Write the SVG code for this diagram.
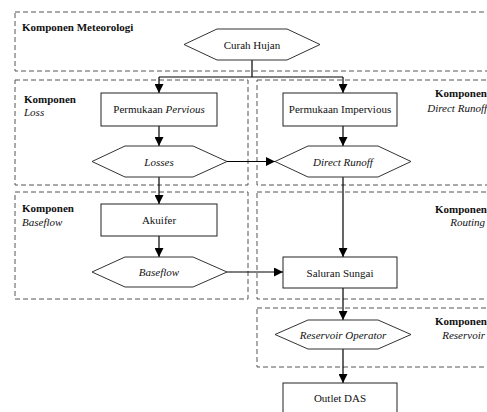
<svg xmlns="http://www.w3.org/2000/svg" width="487" height="412" viewBox="0 0 487 412" font-family="'Liberation Serif', 'DejaVu Serif', serif">
<defs>
<marker id="ah" markerWidth="9" markerHeight="9" refX="9" refY="4.5" orient="auto" markerUnits="userSpaceOnUse">
<path d="M0,0 L9,4.5 L0,9 Z" fill="#000"/>
</marker>
<style>
.grp{fill:none;stroke:#555;stroke-width:1;stroke-dasharray:5,3}
.box{fill:#fff;stroke:#222;stroke-width:1}
.hex{fill:#fff;stroke:#333;stroke-width:1}
text{font-family:'Liberation Serif','DejaVu Serif',serif;font-size:11px;fill:#111}
.b{font-weight:bold}
.i{font-style:italic}
.c{text-anchor:middle}
.r{text-anchor:end}
.ln{fill:none;stroke:#000;stroke-width:1.2}
</style>
</defs>
<rect width="487" height="412" fill="#fff"/>
<g id="groups">
<rect class="grp" x="15" y="12" width="480" height="59"/>
<rect class="grp" x="15" y="80" width="233" height="105"/>
<rect class="grp" x="257" y="80" width="240" height="105"/>
<rect class="grp" x="15" y="192" width="233" height="107"/>
<rect class="grp" x="257" y="192" width="240" height="107"/>
<rect class="grp" x="257" y="308" width="240" height="59"/>
<text class="b" x="22" y="31">Komponen Meteorologi</text>
<text class="b" x="24" y="103">Komponen</text>
<text class="i" x="24" y="116">Loss</text>
<text class="b r" x="487" y="97">Komponen</text>
<text class="i r" x="487" y="112">Direct Runoff</text>
<text class="b" x="22" y="212">Komponen</text>
<text class="i" x="22" y="226">Baseflow</text>
<text class="b r" x="487" y="213">Komponen</text>
<text class="i r" x="485" y="226">Routing</text>
<text class="b r" x="487" y="325">Komponen</text>
<text class="i r" x="485" y="339">Reservoir</text>
</g>
<g id="connectors">
<path class="ln" d="M252,60 V77"/>
<path class="ln" d="M159,77 H343"/>
<path class="ln" d="M159,77 V93" marker-end="url(#ah)"/>
<path class="ln" d="M343,77 V93" marker-end="url(#ah)"/>
<path class="ln" d="M159,126 V146" marker-end="url(#ah)"/>
<path class="ln" d="M343,126 V146" marker-end="url(#ah)"/>
<path class="ln" d="M227,161.5 H275" marker-end="url(#ah)"/>
<path class="ln" d="M159,177 V204" marker-end="url(#ah)"/>
<path class="ln" d="M159,236 V257" marker-end="url(#ah)"/>
<path class="ln" d="M343,177 V257" marker-end="url(#ah)"/>
<path class="ln" d="M227,272 H283" marker-end="url(#ah)"/>
<path class="ln" d="M343,288 V320" marker-end="url(#ah)"/>
<path class="ln" d="M343,349 V383" marker-end="url(#ah)"/>
</g>
<g id="curah-hujan">
<polygon class="hex" points="184,44.5 217,29 287,29 320,44.5 287,60 217,60"/>
<text class="c" x="252" y="48.5">Curah Hujan</text>
</g>
<g id="permukaan-pervious">
<rect class="box" x="101" y="93" width="116" height="33"/>
<text class="c" x="159" y="113">Permukaan <tspan class="i">Pervious</tspan></text>
</g>
<g id="permukaan-impervious">
<rect class="box" x="283" y="93" width="114" height="33"/>
<text class="c" x="340" y="113">Permukaan Impervious</text>
</g>
<g id="losses">
<polygon class="hex" points="92,161.5 125,146 193,146 227,161.5 193,177 125,177"/>
<text class="i c" x="159" y="165.5">Losses</text>
</g>
<g id="direct-runoff">
<polygon class="hex" points="275,161.5 308,146 378,146 411,161.5 378,177 308,177"/>
<text class="i c" x="343" y="165.5">Direct Runoff</text>
</g>
<g id="akuifer">
<rect class="box" x="101" y="204" width="116" height="32"/>
<text class="c" x="159" y="224">Akuifer</text>
</g>
<g id="baseflow">
<polygon class="hex" points="92,272 125,257 193,257 227,272 193,287 125,287"/>
<text class="i c" x="159" y="276">Baseflow</text>
</g>
<g id="saluran-sungai">
<rect class="box" x="283" y="257" width="114" height="31"/>
<text class="c" x="340" y="276.5">Saluran Sungai</text>
</g>
<g id="reservoir-operator">
<polygon class="hex" points="275,334.5 308,320 378,320 411,334.5 378,349 308,349"/>
<text class="i c" x="343" y="338.5">Reservoir Operator</text>
</g>
<g id="outlet-das">
<rect class="box" x="283" y="383" width="114" height="40"/>
<text class="c" x="340" y="402">Outlet DAS</text>
</g>
</svg>
